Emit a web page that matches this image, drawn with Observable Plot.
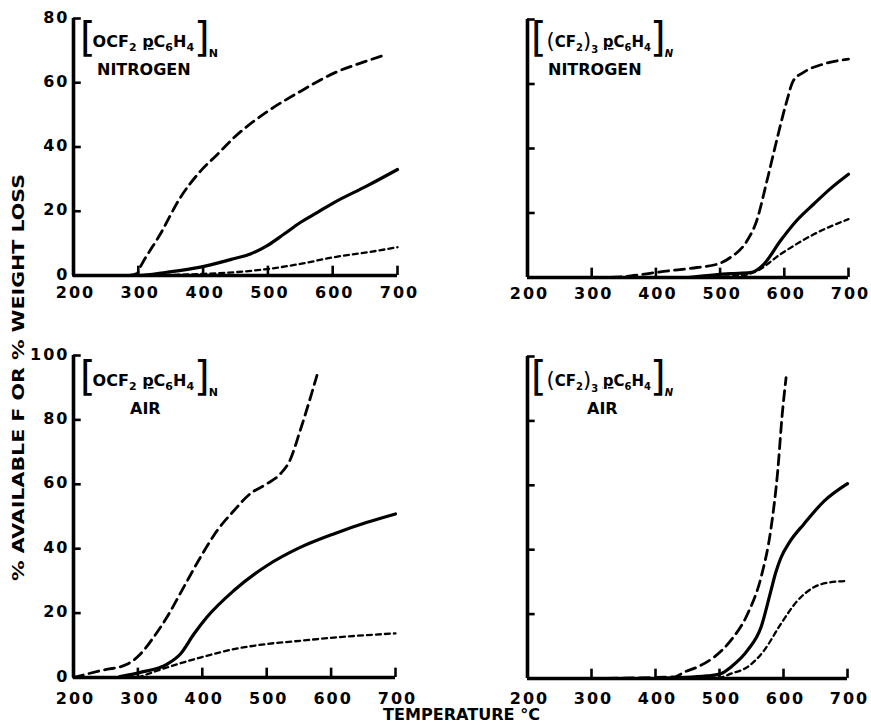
<!DOCTYPE html>
<html><head><meta charset="utf-8">
<script src="https://cdn.jsdelivr.net/npm/d3@7"></script>
<script src="https://cdn.jsdelivr.net/npm/@observablehq/plot@0.6"></script>
<style>
body{margin:0;background:#fff;}
#c{position:relative;width:871px;height:724px;overflow:hidden;background:#fff;}
#c svg.plotpanel{position:absolute;}
#ov{position:absolute;left:0;top:0;pointer-events:none;}
</style></head>
<body><div id="c"></div>
<script>
// ---- data (temperature °C, % value) ----
const xTicks = [200, 300, 400, 500, 600, 700];
const topYTicks = [0, 20, 40, 60, 80];
const bottomYTicks = [0, 20, 40, 60, 80, 100];

// [OCF2 pC6H4]N in nitrogen
const ocfN2_long  = [[286,0],[298,0.6],[303,2.6],[334,12.9],[365,24.3],[396,32.5],[422,37.7],[447,42.8],[499,51],[550,57.3],[602,63],[653,66.8],[675,68.3]];
const ocfN2_solid = [[200,0],[300,0],[344,1],[396,2.6],[447,5.2],[473,6.7],[499,9.3],[525,12.9],[550,16.5],[576,19.6],[602,22.7],[653,27.9],[700,33]];
const ocfN2_short = [[300,0],[400,0.5],[447,1],[499,2],[550,3.6],[602,5.7],[653,7.2],[700,8.8]];

// [(CF2)3 pC6H4]N in nitrogen
const cf3N2_long  = [[330,0],[361,0.5],[412,1.9],[464,3.1],[495,4.1],[516,6.2],[542,11.4],[557,17.6],[573,30],[588,42.4],[604,54.8],[614,61],[630,63.6],[661,66.2],[700,67.7]];
const cf3N2_solid = [[450,0],[516,1.2],[547,1.5],[568,4.1],[594,11.4],[619,17.6],[646,22.8],[671,27.4],[700,32]];
const cf3N2_short = [[450,0],[530,0.5],[557,2],[594,7.2],[646,13.4],[700,18.1]];

// [OCF2 pC6H4]N in air
const ocfAir_long  = [[200,0],[241,2.1],[283,4.1],[304,7.3],[324,12.4],[345,18.7],[371,28],[397,37.3],[423,45.6],[449,51.8],[474,57],[500,60.1],[521,63.2],[536,67.4],[552,76.7],[568,87],[578,93.8]];
const ocfAir_solid = [[272,0.3],[304,1.6],[345,4.1],[366,7.3],[387,13.5],[407,18.7],[449,27],[500,34.7],[552,40.4],[604,44.6],[656,48.2],[700,50.8]];
const ocfAir_short = [[300,0],[345,3.1],[397,6.2],[449,8.8],[500,10.4],[552,11.4],[604,12.4],[700,13.7]];

// [(CF2)3 pC6H4]N in air
const cf3Air_long  = [[300,0],[430,0.5],[445,2],[466,3.6],[492,6.7],[518,11.9],[544,20.1],[565,31.5],[580,46],[591,64.5],[598,82],[604,93.4]];
const cf3Air_solid = [[400,0],[480,0.8],[502,1.5],[518,3.6],[544,8.8],[565,16],[580,27],[588,33],[596,37.5],[610,42.5],[632,48],[663,55],[700,60.5]];
const cf3Air_short = [[400,0],[500,0.3],[518,1.5],[544,3.6],[570,8.8],[596,17],[622,24.2],[648,28.4],[674,29.9],[700,30.3]];

const FONT = "DejaVu Sans";

function panel({long, solid, short, yMax, yTicks, yLabels, left, top, width, height, mt, mr, mb, ml, xPad}) {
  const marks = [
    Plot.ruleY([0], {x1: 200, x2: 700, strokeWidth: 3.6}),
    Plot.ruleX([200], {y1: 0, y2: yMax, strokeWidth: 3.6}),
    Plot.ruleX(xTicks.slice(1), {y1: 0, y2: 2.9, strokeWidth: 2.6}),
    Plot.ruleY(yTicks.slice(1), {x1: 200, x2: 212, strokeWidth: 2.6}),
    Plot.axisX({ticks: xTicks, tickSize: 0, tickPadding: xPad, tickFormat: d => String(d), label: null, dx: 2}),
    Plot.line(long,  {x: d => d[0], y: d => d[1], curve: "monotone-x", stroke: "#000", strokeWidth: 2.8, strokeDasharray: "10,6"}),
    Plot.line(short, {x: d => d[0], y: d => d[1], curve: "monotone-x", stroke: "#000", strokeWidth: 2.3, strokeDasharray: "5,4"}),
    Plot.line(solid, {x: d => d[0], y: d => d[1], curve: "monotone-x", stroke: "#000", strokeWidth: 3.2})
  ];
  if (yLabels) marks.push(Plot.axisY({ticks: yTicks, tickSize: 0, tickPadding: 4, tickFormat: d => String(d), label: null, dy: -1}));
  else marks.push(Plot.axisY({ticks: [], label: null}));
  const svg = Plot.plot({
    width, height,
    marginTop: mt, marginRight: mr, marginBottom: mb, marginLeft: ml,
    x: {domain: [200, 700]},
    y: {domain: [0, yMax]},
    style: {fontFamily: FONT, fontSize: "16px", fontWeight: "bold", letterSpacing: "2px", background: "transparent", overflow: "visible", color: "#000"},
    marks
  });
  svg.classList.add("plotpanel");
  svg.style.left = left + "px";
  svg.style.top = top + "px";
  svg.style.maxWidth = "none";
  document.getElementById("c").appendChild(svg);
}

panel({long: ocfN2_long, solid: ocfN2_solid, short: ocfN2_short, yMax: 80, yTicks: topYTicks, yLabels: true,
  left: 0, top: 0, width: 430, height: 300, mt: 18, mr: 33, mb: 25, ml: 73, xPad: 11});
panel({long: cf3N2_long, solid: cf3N2_solid, short: cf3N2_short, yMax: 80, yTicks: topYTicks, yLabels: false,
  left: 430, top: 0, width: 441, height: 300, mt: 19, mr: 23, mb: 23, ml: 97, xPad: 10});
panel({long: ocfAir_long, solid: ocfAir_solid, short: ocfAir_short, yMax: 100, yTicks: bottomYTicks, yLabels: true,
  left: 0, top: 330, width: 430, height: 394, mt: 25, mr: 35, mb: 47, ml: 73, xPad: 15});
panel({long: cf3Air_long, solid: cf3Air_solid, short: cf3Air_short, yMax: 100, yTicks: bottomYTicks, yLabels: false,
  left: 430, top: 330, width: 441, height: 394, mt: 26, mr: 24, mb: 46, ml: 97, xPad: 14});

// ---- text overlay ----
const ov = d3.select("#c").append("svg").attr("id", "ov").attr("width", 871).attr("height", 724)
  .style("font-family", FONT).style("font-weight", "bold");

const ocfParts = [
  {t: "[", fs: 40, fw: "normal", off: 4},
  {t: "OCF", fs: 16, off: 0, dx: -3},
  {t: "2", fs: 11, off: 4},
  {t: " ", fs: 16, off: 0},
  {t: "p", fs: 16, off: 0, u: true},
  {t: "C", fs: 16, off: 0},
  {t: "6", fs: 11, off: 4},
  {t: "H", fs: 16, off: 0},
  {t: "4", fs: 11, off: 4},
  {t: "]", fs: 40, fw: "normal", off: 4, dx: 0},
  {t: "N", fs: 11, off: 10, dx: -1}
];
const cf3Parts = [
  {t: "[", fs: 40, fw: "normal", off: 4},
  {t: "(", fs: 21, fw: "normal", off: 1},
  {t: "CF", fs: 15, off: 0},
  {t: "2", fs: 10, off: 4},
  {t: ")", fs: 21, fw: "normal", off: 1},
  {t: "3", fs: 10, off: 6},
  {t: " ", fs: 13, off: 0},
  {t: "p", fs: 15, off: 0, u: true},
  {t: "C", fs: 15, off: 0},
  {t: "6", fs: 10, off: 4},
  {t: "H", fs: 15, off: 0},
  {t: "4", fs: 10, off: 4},
  {t: "]", fs: 40, fw: "normal", off: 4, dx: -1},
  {t: "N", fs: 10, off: 10, dx: -1, it: true}
];

function formula(x, y, parts, gasName, gasX) {
  const t = ov.append("text").attr("x", x).attr("y", y);
  let prev = 0;
  for (const p of parts) {
    const s = t.append("tspan").attr("font-size", p.fs).attr("dy", p.off - prev).text(p.t);
    if (p.fw) s.attr("font-weight", p.fw);
    if (p.dx) s.attr("dx", p.dx);
    if (p.u) s.attr("text-decoration", "underline");
    if (p.it) s.attr("font-style", "italic");
    prev = p.off;
  }
  ov.append("text").attr("x", gasX).attr("y", y + 28).attr("font-size", 16).text(gasName);
}

formula(80, 47, ocfParts, "NITROGEN", 97);
formula(531, 47, cf3Parts, "NITROGEN", 548);
formula(80, 386, ocfParts, "AIR", 130);
formula(531, 386, cf3Parts, "AIR", 587);

// axis titles
ov.append("text").attr("transform", "translate(24,581) rotate(-90)")
  .attr("font-size", 15).attr("textLength", 407).attr("lengthAdjust", "spacingAndGlyphs")
  .text("% AVAILABLE F OR % WEIGHT LOSS");
ov.append("text").attr("x", 383).attr("y", 720)
  .attr("font-size", 15).attr("textLength", 157).attr("lengthAdjust", "spacingAndGlyphs")
  .text("TEMPERATURE °C");
</script>
</body></html>
